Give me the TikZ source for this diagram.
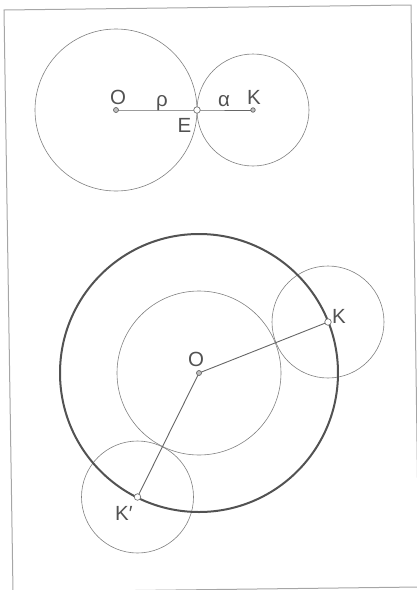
\documentclass[tikz,border=0pt]{standalone}
\usepackage{fontspec}
\setmainfont{Liberation Sans}
\begin{document}
\begin{tikzpicture}[x=1pt,y=-1pt,
  framel/.style={draw=black!35, line width=1pt},
  thincirc/.style={draw=black!50, line width=0.6pt},
  thickcirc/.style={draw=black!68, line width=2pt},
  seg/.style={draw=black!60, line width=0.9pt},
  lbl/.style={text=black!68, font=\fontsize{20.5}{20.5}\selectfont, inner sep=0pt, anchor=base},
  dotpt/.style={circle, draw=black!60, fill=black!25, line width=0.7pt, minimum size=5pt, inner sep=0pt},
  hollowpt/.style={circle, draw=black!55, fill=white, line width=0.7pt, minimum size=6.5pt, inner sep=0pt}]
\useasboundingbox (0,0) rectangle (417,590);
\begin{scope}
\clip (0,0) rectangle (417,590);
\draw[framel] (4,10) -- (411,5) -- (419,587) -- (13,592) -- cycle;
\end{scope}
% top figure
\coordinate (O1) at (116,110);
\coordinate (E) at (197,110);
\coordinate (K1) at (253,110);
\draw[thincirc] (O1) circle[radius=81pt];
\draw[thincirc] (K1) circle[radius=56pt];
\draw[seg] (O1) -- (E) -- (K1);
\node[dotpt] (o1) at (O1) {};
\node[dotpt, minimum size=4.5pt] (k1) at (K1) {};
\node[hollowpt] (e) at (E) {};
\node[lbl] (lO1) at (118,104) {O};
\node[lbl] (lrho) at (162,106) {ρ};
\node[lbl] (lE) at (184.5,132) {E};
\node[lbl] (lalpha) at (224,106.5) {α};
\node[lbl] (lK1) at (254,104) {K};
% bottom figure
\coordinate (O2) at (199,373);
\coordinate (K2) at (328,322);
\coordinate (K3) at (137.5,497);
\draw[thincirc] (O2) circle[radius=82pt];
\draw[thincirc] (K2) circle[radius=56pt];
\draw[thincirc] (K3) circle[radius=56pt];
\draw[thickcirc] (O2) circle[radius=139pt];
\draw[seg] (K2) -- (O2) -- (K3);
\node[dotpt] (o2) at (O2) {};
\node[hollowpt] (k2) at (K2) {};
\node[hollowpt] (k3) at (K3) {};
\node[lbl] (lO2) at (196,366) {O};
\node[lbl] (lK2) at (339,323) {K};
\node[lbl] (lK3) at (124,520) {K′};
\end{tikzpicture}
\end{document}
